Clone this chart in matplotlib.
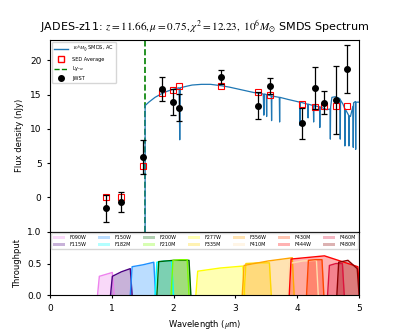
import numpy as np
import matplotlib
matplotlib.use('Agg')
import matplotlib.pyplot as plt
from matplotlib.patches import Patch
from matplotlib.lines import Line2D

plt.rcParams['mathtext.fontset'] = 'stix'

# JWST photometry (nJy)
phot_wave = [0.90, 1.15, 1.50, 1.82, 1.99, 2.09, 2.77, 3.36, 3.56, 4.08, 4.28, 4.44, 4.63, 4.81]
phot_flux = [-1.6, -0.7, 5.9, 15.8, 13.9, 13.1, 17.6, 13.4, 16.3, 10.8, 16.0, 13.8, 14.2, 18.7]
phot_err = [2.0, 1.5, 2.5, 1.8, 1.9, 2.0, 1.0, 2.0, 1.2, 2.3, 3.1, 1.7, 5.0, 3.5]
sed_avg = [0.0, 0.05, 4.6, 15.2, 15.7, 16.2, 16.3, 15.4, 15.0, 13.7, 13.2, 13.3, 13.4, 13.4]

# SMDS model spectrum
model_wave = [1.54, 1.54, 1.60, 1.70, 1.80, 1.90, 2.00, 2.09, 2.10, 2.11, 2.20, 2.30, 2.45,
              2.60, 2.77, 2.90, 3.00, 3.15, 3.30, 3.45, 3.46, 3.47, 3.50, 3.505, 3.51,
              3.58, 3.585, 3.59, 3.71, 3.715, 3.72, 3.85, 4.04, 4.045, 4.05, 4.17, 4.175,
              4.18, 4.26, 4.265, 4.27, 4.36, 4.365, 4.37, 4.48, 4.53, 4.535, 4.54, 4.56,
              4.62, 4.67, 4.69, 4.695, 4.70, 4.74, 4.765, 4.77, 4.775, 4.83, 4.835, 4.84,
              4.86, 4.90, 4.905, 4.91, 4.94, 4.945, 4.95, 5.00]
model_flux = [-10, 13.4, 13.9, 14.6, 15.1, 15.5, 15.8, 16.0, 8.4, 16.0, 16.2, 16.4, 16.5,
              16.5, 16.3, 16.1, 15.9, 15.6, 15.3, 15.1, 12.0, 15.1, 15.0, 11.8, 15.0,
              14.8, 11.2, 14.8, 14.6, 11.0, 14.6, 14.3, 13.9, 10.5, 13.9, 13.6, 11.6,
              13.6, 13.4, 11.0, 13.4, 13.2, 10.2, 13.2, 12.8, 12.9, 8.5, 13.2, 14.6,
              14.7, 14.5, 14.4, 8.5, 14.2, 13.6, 13.0, 7.5, 12.9, 12.0, 7.5, 11.9,
              11.8, 13.3, 7.3, 13.8, 14.0, 7.0, 13.9, 13.9]

lya_wave = 1.54

# NIRCam filters: name, colour, blue edge, red edge, throughput at blue edge / middle / red edge
filt_names = ['F090W', 'F115W', 'F150W', 'F182M', 'F200W', 'F210M', 'F277W',
              'F335M', 'F356W', 'F410M', 'F430M', 'F444W', 'F460M', 'F480M']
filt_colors = ['violet', 'indigo', 'dodgerblue', 'cyan', 'darkgreen', 'lawngreen', 'yellow',
               'gold', 'orange', 'navajowhite', 'orangered', 'red', 'crimson', 'darkred']
filt_lo = [0.80, 1.01, 1.33, 1.73, 1.76, 1.99, 2.39, 3.17, 3.14, 3.87, 4.18, 3.90, 4.52, 4.67]
filt_hi = [1.01, 1.30, 1.68, 1.97, 2.25, 2.22, 3.12, 3.55, 3.92, 4.31, 4.40, 4.98, 4.73, 4.97]
filt_t_lo = [0.30, 0.30, 0.45, 0.52, 0.53, 0.55, 0.38, 0.50, 0.47, 0.50, 0.55, 0.57, 0.47, 0.52]
filt_t_mid = [0.33, 0.37, 0.48, 0.54, 0.55, 0.56, 0.43, 0.51, 0.54, 0.54, 0.56, 0.62, 0.50, 0.55]
filt_t_hi = [0.36, 0.42, 0.52, 0.54, 0.55, 0.56, 0.46, 0.51, 0.59, 0.55, 0.56, 0.45, 0.50, 0.42]

fig, (ax, axf) = plt.subplots(2, 1, figsize=(3.99, 3.32), dpi=100, sharex=True,
                              gridspec_kw={'height_ratios': [3, 1], 'hspace': 0})

ax.plot(model_wave, model_flux, color='#1f77b4', lw=0.9, zorder=2)
ax.axvline(lya_wave, color='green', ls='--', lw=1.2, zorder=1)
ax.plot(phot_wave, sed_avg, 's', mfc='none', mec='red', ms=4, mew=0.8, zorder=3)
ax.errorbar(phot_wave, phot_flux, yerr=phot_err, fmt='o', color='black', ms=4,
            capsize=2, elinewidth=0.9, capthick=0.9, zorder=4)

ax.set_xlim(0, 5)
ax.set_ylim(-5, 23)
ax.set_yticks([0, 5, 10, 15, 20])
ax.set_ylabel('Flux density (nJy)', fontsize=6)
ax.tick_params(labelsize=6.5, length=2.5)
ax.tick_params(axis='x', length=0)
ax.set_title(r'JADES-z11: $z=11.66, \mu=0.75, \chi^2=12.23,\ 10^6 M_{\odot}$ SMDS Spectrum',
             fontsize=8)

handles = [Line2D([], [], color='#1f77b4', lw=1),
           Line2D([], [], marker='s', ls='none', mfc='none', mec='red', ms=4),
           Line2D([], [], color='green', ls='--', lw=1),
           Line2D([], [], marker='o', ls='none', color='black', ms=4)]
labels = [r'$10^6 M_{\odot}$ SMDS, AC', 'SED Average', r'Ly-$\alpha$', 'JWST']
ax.legend(handles, labels, loc='upper left', fontsize=3.6, handlelength=2.8)

for i in range(len(filt_names)):
    xs = [filt_lo[i] - 0.03, filt_lo[i], (filt_lo[i] + filt_hi[i]) / 2, filt_hi[i], filt_hi[i] + 0.03]
    ys = [0, filt_t_lo[i], filt_t_mid[i], filt_t_hi[i], 0]
    axf.fill_between(xs, ys, color=filt_colors[i], alpha=0.3, lw=0)
    axf.plot(xs, ys, color=filt_colors[i], lw=1)

fhandles = [Patch(facecolor=c, alpha=0.3) for c in filt_colors]
axf.legend(fhandles, filt_names, loc='upper center', ncol=7, fontsize=3.5,
           handlelength=2.5, columnspacing=1.5, borderaxespad=0.3, mode='expand')

axf.set_ylim(0, 1)
axf.set_xlim(0, 5)
axf.set_yticks([0, 0.5, 1.0])
axf.set_ylabel('Throughput', fontsize=6)
axf.set_xlabel(r'Wavelength ($\mu$m)', fontsize=6)
axf.tick_params(labelsize=6.5, length=2.5)

plt.savefig('out.png', dpi=100)
